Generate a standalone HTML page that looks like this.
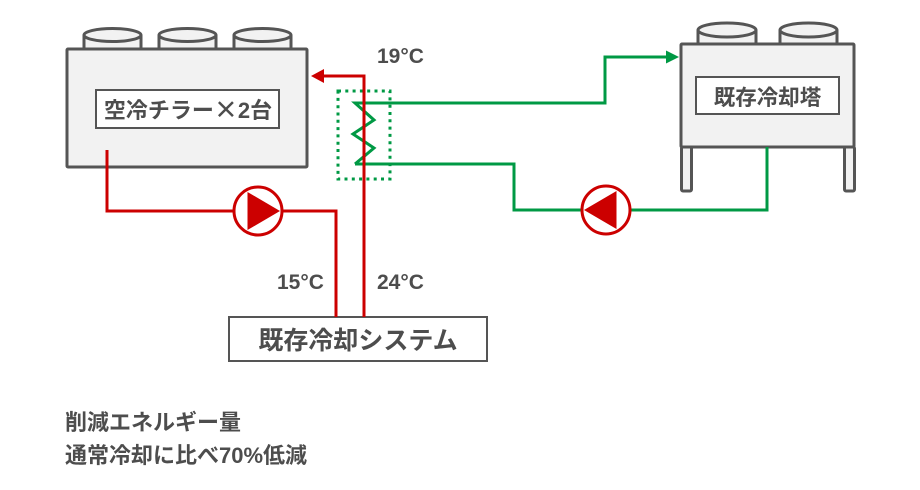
<!DOCTYPE html>
<html><head><meta charset="utf-8"><style>
html,body{margin:0;padding:0;background:#fff;}
svg{display:block;}
text{font-family:"Liberation Sans","Noto Sans CJK JP",sans-serif;font-weight:bold;fill:#4d4d4d;}
</style></head><body>
<svg width="920" height="490" viewBox="0 0 920 490" xmlns="http://www.w3.org/2000/svg">
<!-- Chiller cylinders -->
<g fill="#f2f2f2" stroke="#555" stroke-width="3">
  <path d="M84 35 V49 H141 V35"/><ellipse cx="112.5" cy="35" rx="28.5" ry="6.5"/>
  <path d="M159 35 V49 H216 V35"/><ellipse cx="187.5" cy="35" rx="28.5" ry="6.5"/>
  <path d="M234 35 V49 H291 V35"/><ellipse cx="262.5" cy="35" rx="28.5" ry="6.5"/>
  <rect x="67" y="49" width="240" height="118" rx="1"/>
</g>
<rect x="96" y="90" width="183" height="38" fill="#fff" stroke="#555" stroke-width="2"/>
<text x="188" y="118" font-size="22" text-anchor="middle">空冷チラー<tspan font-family="'Noto Sans CJK JP',sans-serif" font-size="24">×</tspan>2台</text>

<!-- Tower -->
<g fill="#f2f2f2" stroke="#555" stroke-width="3">
  <path d="M698 30 V44 H756 V30"/><ellipse cx="727" cy="30" rx="29" ry="7"/>
  <path d="M780 30 V44 H837 V30"/><ellipse cx="808.5" cy="30" rx="28.5" ry="7"/>
  <rect x="681.5" y="147" width="10" height="44" rx="1.5"/>
  <rect x="844.5" y="147" width="10" height="44" rx="1.5"/>
  <rect x="681" y="44" width="173" height="103" rx="1"/>
</g>
<rect x="696" y="77" width="143" height="37" fill="#fff" stroke="#555" stroke-width="2"/>
<text x="767.5" y="105" font-size="21.5" text-anchor="middle">既存冷却塔</text>

<!-- System box -->
<rect x="229" y="317" width="258" height="44" fill="#fff" stroke="#555" stroke-width="2"/>
<text x="358" y="349" font-size="25" text-anchor="middle">既存冷却システム</text>

<!-- Dotted HX box -->
<rect x="338" y="91" width="52" height="88" fill="none" stroke="#009944" stroke-width="3" stroke-dasharray="3 4.3"/>

<!-- Green lines -->
<g fill="none" stroke="#009944" stroke-width="3" stroke-linejoin="miter">
  <polyline points="355,164 374,148 353,134 374,120 355,103 605,103 605,57 667,57"/>
  <polyline points="355,164 514,164 514,210 767,210 767,147"/>
</g>
<polygon points="679,57 666,50.5 666,63.5" fill="#009944"/>

<!-- Red lines -->
<g fill="none" stroke="#cc0000" stroke-width="3">
  <polyline points="107,150 107,211 336,211 336,317"/>
  <polyline points="364,317 364,76 322,76"/>
</g>
<polygon points="311,76 324,69 324,83" fill="#cc0000"/>

<!-- Pumps -->
<circle cx="258" cy="211" r="24" fill="#fff" stroke="#cc0000" stroke-width="3"/>
<polygon points="280,211 247.5,192 247.5,230" fill="#cc0000"/>
<circle cx="606" cy="210" r="24" fill="#fff" stroke="#cc0000" stroke-width="3"/>
<polygon points="584,210 616.5,191 616.5,229" fill="#cc0000"/>

<!-- Temperatures -->
<text x="377" y="63" font-size="21">19°C</text>
<text x="277" y="289" font-size="21">15°C</text>
<text x="377" y="289" font-size="21">24°C</text>

<!-- Bottom notes -->
<text x="65" y="430" font-size="22">削減エネルギー量</text>
<text x="65" y="463" font-size="22">通常冷却に比べ70%低減</text>
</svg>
</body></html>
